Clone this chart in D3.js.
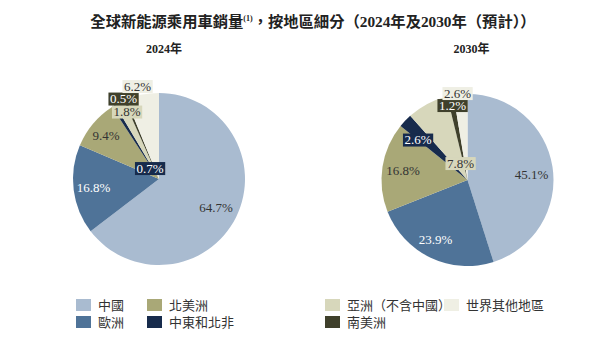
<!DOCTYPE html>
<html><head><meta charset="utf-8">
<script src="https://cdn.jsdelivr.net/npm/d3@7"></script>
<style>body{margin:0;background:#fff}</style>
</head><body><svg id="c" width="616" height="352"></svg>
<script>
const regions = ["中國","歐洲","北美洲","中東和北非","亞洲（不含中國）","南美洲","世界其他地區"];
const values2024 = [64.7,16.8,9.4,0.7,1.8,0.5,6.2];
const values2030 = [45.1,23.9,16.8,2.6,7.8,1.2,2.6];
const years = ["2024年","2030年"];
const colors = ["#a9bbd0","#4f7398","#a9a877","#172b4c","#d7d7bb","#3f402b","#efefe4"];
const legendOrder = [[0,1],[2,3],[4,5],[6]]; // columns

const svg = d3.select("#c");
const serif = "'Liberation Serif','Noto Sans CJK TC',serif";
const cjk = "'Noto Sans CJK TC',sans-serif";

// title
const t = svg.append("text").attr("x",313).attr("y",27).attr("text-anchor","middle")
  .attr("font-family",serif).attr("font-weight","bold").attr("font-size",15.3).attr("fill","#222");
t.append("tspan").text("全球新能源乘用車銷量");
t.append("tspan").attr("font-size",8).attr("dy",-6).text("(1)");
t.append("tspan").attr("dy",6).text("，按地區細分（2024年及2030年（預計））");

const color = d3.scaleOrdinal().domain(regions).range(colors);
const pie = d3.pie().sort(null).value(d=>d.v);
const r = 86;
const arc = d3.arc().innerRadius(0).outerRadius(r);

// label layout (offset from pie centre), text colour, box
const layouts = [
  [ {dx:57,dy:28.5,fill:"#333"}, {dx:-65.5,dy:8,fill:"#fff"}, {dx:-53,dy:-44,fill:"#333"},
    {dx:-9,dy:-11,fill:"#fff",box:true}, {dx:-32,dy:-67.5,fill:"#333",box:true},
    {dx:-35.5,dy:-80.5,fill:"#fff",box:true}, {dx:-21.5,dy:-93,fill:"#333",box:true} ],
  [ {dx:64,dy:-5.5,fill:"#333"}, {dx:-32,dy:59.5,fill:"#fff"}, {dx:-64.5,dy:-9.5,fill:"#333"},
    {dx:-49.5,dy:-40.5,fill:"#fff",box:true}, {dx:-7,dy:-17,fill:"#333",box:true},
    {dx:-15,dy:-75,fill:"#fff",box:true}, {dx:-10,dy:-87,fill:"#333",box:true} ]
];
const centres = [[159,179],[467.5,180]];
[values2024,values2030].forEach((vals,i)=>{
  const g = svg.append("g").attr("transform",`translate(${centres[i][0]},${centres[i][1]})`);
  const data = pie(regions.map((k,j)=>({k,v:vals[j]})));
  g.selectAll("path").data(data).join("path").attr("d",arc)
    .attr("fill",d=>color(d.data.k)).attr("stroke","none");
  svg.append("text").attr("x",centres[i][0]+(i?4:5)).attr("y",53).attr("text-anchor","middle")
    .attr("font-family",serif).attr("font-weight","bold").attr("font-size",12).attr("fill","#222").text(years[i]);
  data.forEach((d,j)=>{
    const L = layouts[i][j];
    const lg = g.append("g").attr("transform",`translate(${L.dx},${L.dy})`);
    const label = d3.format(".1f")(d.data.v)+"%";
    const txt = lg.append("text").attr("text-anchor","middle").attr("dy","0.35em")
      .attr("font-family",serif).attr("font-size",13).attr("fill",L.fill).text(label);
    if(L.box){
      const bb = txt.node().getBBox();
      lg.insert("rect","text").attr("x",bb.x-1.5).attr("y",bb.y+1.5).attr("width",bb.width+3).attr("height",bb.height-2)
        .attr("fill",color(d.data.k));
    }
  });
});

// legend
const colX = [76,147,325,444];
const rowY = [299,316];
legendOrder.forEach((col,ci)=>{
  col.forEach((idx,ri)=>{
    const g = svg.append("g").attr("transform",`translate(${colX[ci]},${rowY[ri]})`);
    g.append("rect").attr("width",15).attr("height",12).attr("fill",colors[idx]);
    g.append("text").attr("x",22).attr("y",10.5).attr("font-family",cjk).attr("font-size",13)
      .attr("fill","#333").text(regions[idx]);
  });
});
</script></body></html>
